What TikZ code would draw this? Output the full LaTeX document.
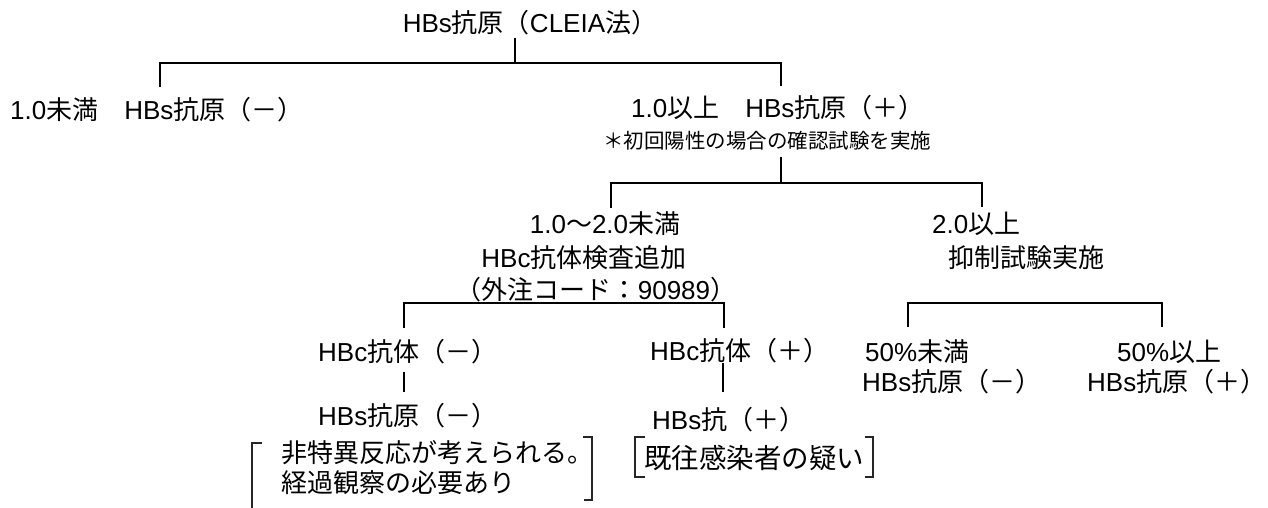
\documentclass[tikz,border=0pt]{standalone}
\usepackage{fontspec}
\setmainfont{Liberation Sans}
\newfontfamily\cjk{Noto Sans CJK JP}
\newcommand\J[1]{{\cjk #1}}
\begin{document}
\begin{tikzpicture}[x=1pt,y=-1pt,
  lbl/.style={anchor=west,inner sep=0pt,font=\fontsize{26}{28}\selectfont},
  notelbl/.style={anchor=west,inner sep=0pt,font=\fontsize{20.5}{22}\selectfont},
  tree/.style={line width=2.6pt,line join=miter},
  brk/.style={line width=1.3pt,black!85}]
\useasboundingbox (0,0) rectangle (1268,508);
% texts
\node[lbl,anchor=center] (title) at (530,23) {HBs\J{抗原（}CLEIA\J{法）}};
\node[lbl] (neg1) at (10,110) {1.0\J{未満　}HBs\J{抗原（－）}};
\node[lbl] (pos1) at (631,108) {1.0\J{以上　}HBs\J{抗原（＋）}};
\node[notelbl] (note) at (603,141) {\J{＊初回陽性の場合の確認試験を実施}};
\node[lbl,anchor=center] (mid1) at (605,224) {1.0\J{～}2.0\J{未満}};
\node[lbl,anchor=center] (mid2) at (584,258) {HBc\J{抗体検査追加}};
\node[lbl,anchor=center] (mid3) at (596,290) {\J{（外注コード：}90989\J{）}};
\node[lbl] (hi1) at (932,224) {2.0\J{以上}};
\node[lbl] (hi2) at (948,258) {\J{抑制試験実施}};
\node[lbl] (r1a) at (865,352) {50\%\J{未満}};
\node[lbl] (r1b) at (862,382) {HBs\J{抗原（－）}};
\node[lbl] (r2a) at (1117,352) {50\%\J{以上}};
\node[lbl] (r2b) at (1087,382) {HBs\J{抗原（＋）}};
\node[lbl] (cneg) at (318,352) {HBc\J{抗体（－）}};
\node[lbl] (sneg) at (318,416) {HBs\J{抗原（－）}};
\node[lbl] (cpos) at (650,351) {HBc\J{抗体（＋）}};
\node[lbl] (spos) at (652,420) {HBs\J{抗（＋）}};
\node[lbl] (c1) at (281,453) {\J{非特異反応が考えられる。}};
\node[lbl] (c2) at (281,483) {\J{経過観察の必要あり}};
\node[lbl,font=\fontsize{27.5}{29}\selectfont] (c3) at (644,458) {\J{既往感染者の疑い}};
% junction coordinates
\coordinate (t0) at (515,38);
\coordinate (t1) at (515,63);
\coordinate (aL) at (160,87);
\coordinate (aLt) at (160,63);
\coordinate (aRt) at (781,63);
\coordinate (aR) at (781,86);
\coordinate (n0) at (781,157);
\coordinate (n1) at (781,183);
\coordinate (bL) at (611,208);
\coordinate (bLt) at (611,183);
\coordinate (bRt) at (982,183);
\coordinate (bR) at (982,207);
\coordinate (cL) at (404,328);
\coordinate (cLt) at (404,303);
\coordinate (cRt) at (724,303);
\coordinate (cR) at (724,328);
\coordinate (dL) at (908,327);
\coordinate (dLt) at (908,303);
\coordinate (dRt) at (1162,303);
\coordinate (dR) at (1162,327);
\coordinate (e0) at (404,372);
\coordinate (e1) at (404,392);
\coordinate (f0) at (723,363);
\coordinate (f1) at (723,392);
% tree lines
\draw[tree] (t0) -- (t1);
\draw[tree] (aL) -- (aLt) -- (aRt) -- (aR);
\draw[tree] (n0) -- (n1);
\draw[tree] (bL) -- (bLt) -- (bRt) -- (bR);
\draw[tree] (cL) -- (cLt) -- (cRt) -- (cR);
\draw[tree] (dL) -- (dLt) -- (dRt) -- (dR);
\draw[tree] (e0) -- (e1);
\draw[tree] (f0) -- (f1);
% brackets
\coordinate (k1) at (262,443);
\coordinate (k2) at (252,443);
\coordinate (k3) at (252,510);
\coordinate (k4) at (583,437);
\coordinate (k5) at (592,437);
\coordinate (k6) at (592,500);
\coordinate (k7) at (584,500);
\draw[brk] (k1) -- (k2) -- (k3);
\draw[brk] (k4) -- (k5) -- (k6) -- (k7);
\coordinate (m1) at (645,437);
\coordinate (m2) at (635,437);
\coordinate (m3) at (635,477);
\coordinate (m4) at (645,477);
\coordinate (m5) at (865,437);
\coordinate (m6) at (873,437);
\coordinate (m7) at (873,477);
\coordinate (m8) at (865,477);
\draw[brk] (m1) -- (m2) -- (m3) -- (m4);
\draw[brk] (m5) -- (m6) -- (m7) -- (m8);
\end{tikzpicture}
\end{document}
